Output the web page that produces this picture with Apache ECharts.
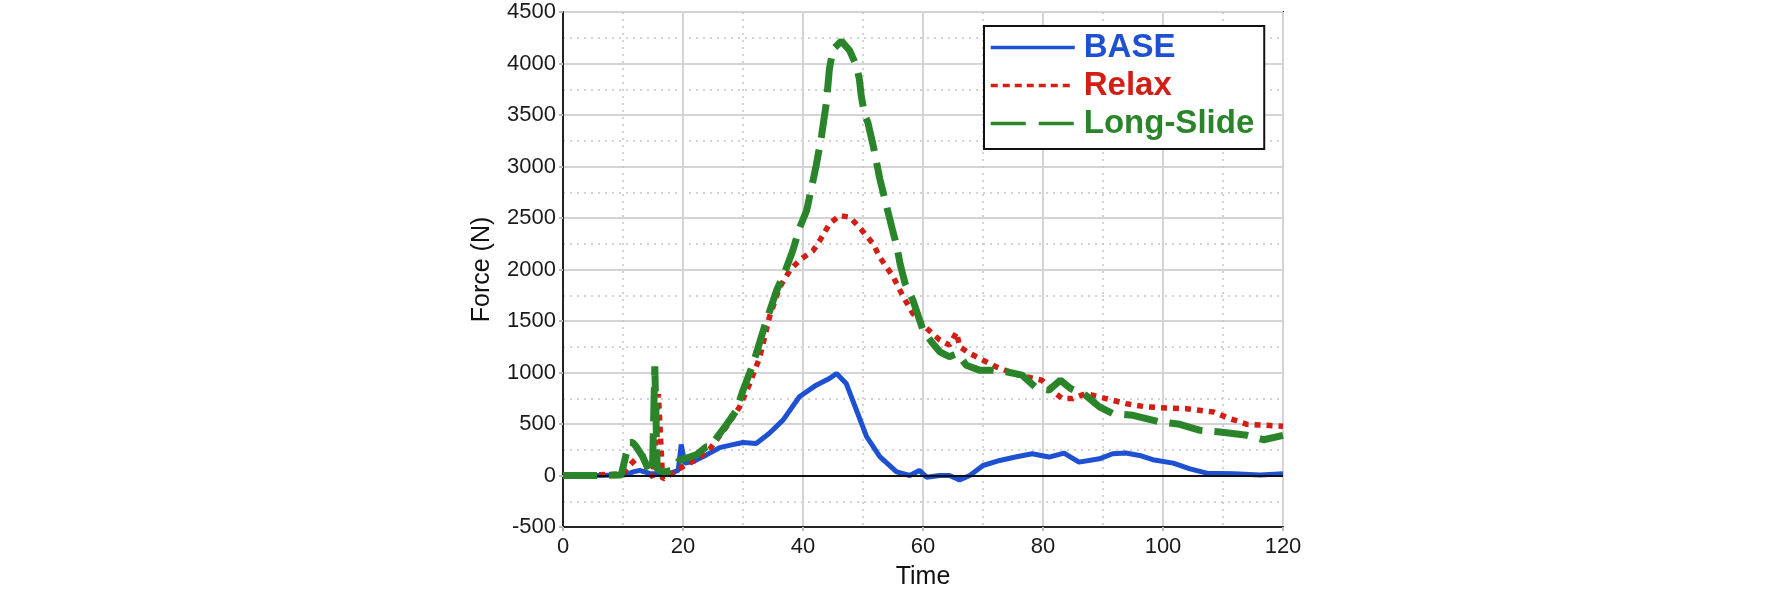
<!DOCTYPE html>
<html>
<head>
<meta charset="utf-8">
<script src="https://cdn.jsdelivr.net/npm/echarts@6/dist/echarts.min.js"></script>
<style>
  html, body { margin: 0; padding: 0; background: #fff; }
  #chart { width: 1772px; height: 595px; }
</style>
</head>
<body>
<div id="chart"></div>
<script>
// values
const baseTime = [0, 5, 10, 10.6, 11.7, 12.8, 14.4, 16.1, 17.8, 19.2, 19.7, 20.3, 21.7, 23.9, 26.1, 28.3, 30, 32.2, 34.4, 36.7, 39.4, 42.2, 44.4, 45.6, 47.2, 48.9, 50.6, 52.8, 55.6, 57.8, 59.4, 60.6, 62.8, 64.4, 66.1, 67.8, 70, 72.8, 75.4, 78.2, 81, 83.5, 86, 89.4, 91.6, 93.8, 96.1, 98.3, 101.7, 104.5, 107.3, 111.8, 116.2, 120];
const baseForce = [0, 0, 5, 10, 35, 50, 20, 15, 20, 50, 300, 120, 135, 200, 270, 300, 320, 310, 410, 540, 764, 877, 942, 990, 894, 636, 377, 184, 35, 0, 49, -16, 0, 0, -42, 0, 97, 146, 179, 211, 179, 218, 130, 162, 211, 218, 195, 153, 120, 65, 23, 16, 6, 16];

const relaxTime = [0, 8, 10, 11.1, 12, 13.3, 14.2, 15, 15.9, 16.1, 16.6, 17.8, 20, 22.2, 24.5, 27.2, 29.4, 31.1, 32.8, 34.4, 36.1, 37.8, 39.4, 41.7, 42.8, 44.4, 46.1, 47.8, 49.4, 51.7, 52.8, 55, 56.7, 58.3, 60.6, 62.8, 64.4, 65.6, 66.1, 67.8, 70, 72.2, 74.4, 76, 79.8, 81.5, 83.2, 84.9, 87.1, 90.5, 93.8, 97.2, 100.6, 103.9, 108.4, 111.2, 114, 117.4, 120];
const relaxForce = [0, 10, 20, 100, 150, 200, 30, -15, 790, 800, -35, 5, 87, 152, 260, 469, 663, 890, 1149, 1537, 1828, 1990, 2090, 2184, 2281, 2443, 2524, 2508, 2411, 2249, 2119, 1932, 1737, 1575, 1429, 1315, 1266, 1390, 1250, 1185, 1120, 1055, 1007, 974, 925, 828, 747, 747, 795, 747, 698, 666, 656, 649, 617, 552, 497, 487, 477];

const longTime = [0, 5, 9.7, 10.5, 11.1, 11.6, 12.2, 13.3, 14.4, 14.9, 15.3, 15.7, 16.7, 18.3, 19.4, 20.6, 22.2, 23.9, 24.5, 25.6, 27.2, 28.9, 30, 31.7, 33.6, 35.6, 37.2, 38.3, 39.4, 40.6, 42.2, 43.1, 43.9, 44.4, 45, 46.4, 47.8, 48.9, 49.4, 49.7, 50.3, 50.8, 51.7, 52.8, 53.9, 55, 55.6, 56.2, 57, 58.3, 60, 61.4, 62.8, 64.4, 65.8, 67.2, 69.4, 71.7, 73.9, 76.5, 78.7, 81, 82.9, 84.6, 87.1, 89.4, 91.6, 95, 99.4, 102.8, 106.2, 109.5, 114, 116.8, 120];
const longForce = [0, 0, 5, 200, 320, 320, 280, 180, 40, 20, 1060, 60, 35, 50, 150, 170, 200, 280, 280, 365, 490, 630, 826, 1086, 1450, 1796, 2010, 2184, 2400, 2570, 3010, 3300, 3623, 3945, 4139, 4219, 4123, 3977, 3848, 3687, 3494, 3429, 3203, 2881, 2622, 2364, 2235, 2050, 1867, 1705, 1412, 1299, 1201, 1153, 1185, 1071, 1023, 1023, 1007, 974, 860, 828, 925, 844, 779, 666, 601, 584, 520, 497, 438, 422, 390, 347, 390];

const seriesNames = ['BASE', 'Relax', 'Long-Slide'];
const seriesColors = ['#1e50d2', '#d21e14', '#2a852a'];
const seriesDash = ['solid', [6, 6], [34, 12]];
const legendDash = ['solid', [7, 5], [35, 13]];
const seriesWidth = [5, 5.5, 7];

function zip(xs, ys) {
  return xs.map((x, i) => [x, ys[i]]);
}

const font = "'Liberation Sans', Arial, sans-serif";
const chart = echarts.init(document.getElementById('chart'));

const axisCommon = {
  axisLine: { show: true, onZero: false, lineStyle: { color: '#222', width: 2 } },
  axisTick: { show: true, length: 4, lineStyle: { color: '#bbb', width: 2 } },
  splitLine: { show: true, lineStyle: { color: '#d4d4d4', width: 2 } },
  minorTick: { show: false, splitNumber: 2 },
  minorSplitLine: { show: true, lineStyle: { color: '#c4c4c4', width: 1.5, type: [2, 5] } }
};

const option = {
  backgroundColor: '#fff',
  animation: false,
  grid: {
    left: 563, right: 489, top: 12, bottom: 64,
    show: true, borderColor: '#222', borderWidth: 2
  },
  legend: {
    orient: 'vertical',
    left: 984, top: 26,
    padding: [5, 10, 9, 5],
    itemWidth: 84, itemHeight: 14, itemGap: 5,
    borderColor: '#111', borderWidth: 2,
    backgroundColor: '#fff',
    itemStyle: { opacity: 0 },
    textStyle: { fontFamily: font, fontSize: 33, fontWeight: 'bold', padding: [0, 0, 0, 4] },
    data: seriesNames.map((n, i) => ({
      name: n,
      itemStyle: { opacity: 0 },
      lineStyle: { color: seriesColors[i], width: 3.5, type: legendDash[i] },
      textStyle: { color: seriesColors[i] }
    }))
  },
  xAxis: Object.assign({
    type: 'value', min: 0, max: 120, interval: 20,
    name: 'Time', nameLocation: 'middle', nameGap: 38,
    nameTextStyle: { fontFamily: font, fontSize: 25, color: '#111' },
    axisLabel: { fontFamily: font, fontSize: 22, color: '#1a1a1a', margin: 9 }
  }, axisCommon),
  yAxis: Object.assign({
    type: 'value', min: -500, max: 4500, interval: 500,
    name: 'Force (N)', nameLocation: 'middle', nameGap: 68, nameRotate: 90,
    nameTextStyle: { fontFamily: font, fontSize: 25, color: '#111' },
    axisLabel: { fontFamily: font, fontSize: 22, color: '#1a1a1a', margin: 7, formatter: v => String(v) }
  }, axisCommon),
  series: [
    {
      name: 'BASE', type: 'line', showSymbol: false, symbol: 'none',
      data: zip(baseTime, baseForce),
      lineStyle: { color: seriesColors[0], width: seriesWidth[0], type: seriesDash[0] },
      itemStyle: { color: seriesColors[0] },
      markLine: {
        silent: true, symbol: 'none', label: { show: false },
        lineStyle: { color: '#111', width: 2, type: 'solid' },
        data: [{ yAxis: 0 }]
      },
      z: 3
    },
    {
      name: 'Relax', type: 'line', showSymbol: false, symbol: 'none',
      data: zip(relaxTime, relaxForce),
      lineStyle: { color: seriesColors[1], width: seriesWidth[1], type: seriesDash[1] },
      itemStyle: { color: seriesColors[1] },
      z: 4
    },
    {
      name: 'Long-Slide', type: 'line', showSymbol: false, symbol: 'none',
      data: zip(longTime, longForce),
      lineStyle: { color: seriesColors[2], width: seriesWidth[2], type: seriesDash[2] },
      itemStyle: { color: seriesColors[2] },
      z: 5
    }
  ]
};

chart.setOption(option);
</script>
</body>
</html>
